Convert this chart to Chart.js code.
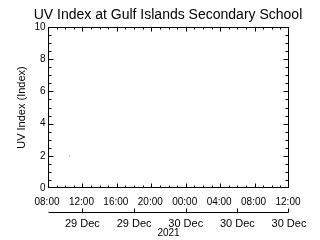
<!DOCTYPE html>
<html>
<head>
<meta charset="utf-8">
<script src="https://cdn.jsdelivr.net/npm/chart.js@4.4.1/dist/chart.umd.min.js"></script>
<style>
  html, body { margin: 0; padding: 0; background: #fff; }
  #wrap { width: 320px; height: 240px; }
</style>
</head>
<body>
<div id="wrap"><canvas id="uvChart" width="320" height="240"></canvas></div>
<script>
// hours counted from 29 Dec 2021 00:00
const chartTitle = 'UV Index at Gulf Islands Secondary School';
const yTitle = 'UV Index (Index)';
const yTicks = [0, 2, 4, 6, 8, 10];
const timeTickHours = [8, 12, 16, 20, 24, 28, 32, 36];
const timeTickLabels = ['08:00', '12:00', '16:00', '20:00', '00:00', '04:00', '08:00', '12:00'];
const dateTickHours = [12, 18, 24, 30, 36];
const dateTickLabels = ['29 Dec', '29 Dec', '30 Dec', '30 Dec', '30 Dec'];
const yearLabel = '2021';

const uvHours = [10.5];
const uvValues = [2];

const FONT = '"Liberation Sans", Arial, sans-serif';

// IDL style box axes, drawn from the chart's own scales
const idlAxes = {
  id: 'idlAxes',
  afterDraw(chart) {
    const ctx = chart.ctx;
    const xs = chart.scales.x;
    const ys = chart.scales.y;
    const a = chart.chartArea;
    const L = Math.round(a.left) + 0.5, R = Math.round(a.right) - 0.5;
    const T = Math.round(a.top) + 0.5, B = Math.round(a.bottom) - 0.5;
    const px = h => Math.min(R, Math.max(L, Math.round(xs.getPixelForValue(h)) + 0.5));
    const py = v => Math.min(B, Math.max(T, Math.round(ys.getPixelForValue(v)) + 0.5));

    ctx.save();
    ctx.strokeStyle = '#000';
    ctx.lineWidth = 1;
    ctx.strokeRect(L, T, R - L, B - T);

    ctx.beginPath();
    // y ticks (left and right), minor every 0.5
    for (let v = ys.min; v <= ys.max + 1e-9; v += 0.5) {
      const y = py(v);
      const len = Number.isInteger(v) && v % 2 === 0 ? 5 : 3;
      ctx.moveTo(L, y); ctx.lineTo(L + len, y);
      ctx.moveTo(R, y); ctx.lineTo(R - len, y);
    }
    // x ticks (bottom and top), minor every hour
    for (let h = xs.min; h <= xs.max + 1e-9; h += 1) {
      const x = px(h);
      const len = timeTickHours.includes(h) ? 4 : 2;
      ctx.moveTo(x, B); ctx.lineTo(x, B - len);
      ctx.moveTo(x, T); ctx.lineTo(x, T + len);
    }
    // second (date) axis below
    const y2 = 212.5;
    ctx.moveTo(L, y2); ctx.lineTo(R, y2);
    dateTickHours.forEach(h => {
      const x = px(h);
      ctx.moveTo(x, y2); ctx.lineTo(x, y2 - 4);
    });
    ctx.stroke();

    ctx.fillStyle = '#000';
    ctx.font = '10px ' + FONT;
    ctx.textBaseline = 'middle';
    ctx.textAlign = 'right';
    yTicks.forEach(v => ctx.fillText(String(v), L - 3, ys.getPixelForValue(v)));

    ctx.textAlign = 'center';
    timeTickHours.forEach((h, i) => ctx.fillText(timeTickLabels[i], xs.getPixelForValue(h) - 1, 202));
    ctx.font = '11px ' + FONT;
    dateTickHours.forEach((h, i) => ctx.fillText(dateTickLabels[i], xs.getPixelForValue(h), 224));
    ctx.font = '10px ' + FONT;
    ctx.fillText(yearLabel, (L + R) / 2, 233.5);

    ctx.font = '14px ' + FONT;
    ctx.fillText(chartTitle, 168, 15);

    ctx.font = '11px ' + FONT;
    ctx.translate(22, (T + B) / 2);
    ctx.rotate(-Math.PI / 2);
    ctx.fillText(yTitle, 0, 0);
    ctx.restore();
  }
};

new Chart(document.getElementById('uvChart').getContext('2d'), {
  type: 'scatter',
  data: {
    datasets: [{
      data: uvHours.map((h, i) => ({ x: h, y: uvValues[i] })),
      pointRadius: 0.8,
      pointBorderWidth: 0,
      pointBackgroundColor: '#a8a8a8'
    }]
  },
  options: {
    responsive: false,
    animation: false,
    layout: { padding: { left: 48, right: 31, top: 27, bottom: 52 } },
    scales: {
      x: { type: 'linear', min: 8, max: 36, display: false },
      y: { type: 'linear', min: 0, max: 10, display: false }
    },
    plugins: { legend: { display: false }, tooltip: { enabled: false } }
  },
  plugins: [idlAxes]
});
</script>
</body>
</html>
